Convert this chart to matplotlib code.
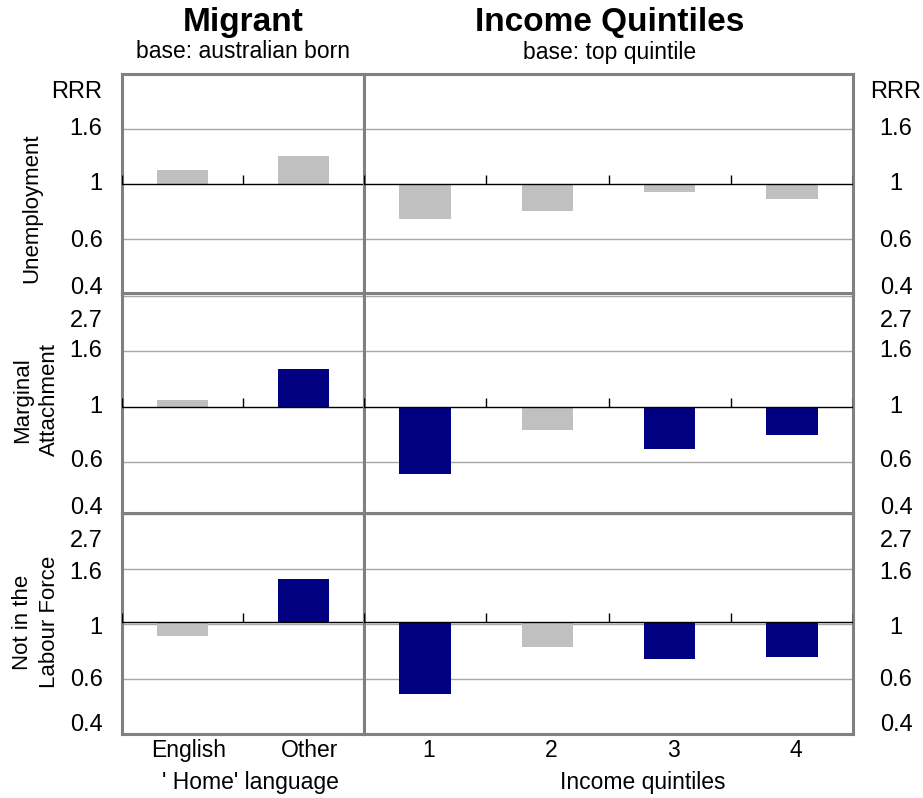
import numpy as np
import matplotlib
matplotlib.use("Agg")
import matplotlib.pyplot as plt

plt.rcParams['font.family'] = ['Liberation Sans', 'DejaVu Sans']

# ---- data: relative risk ratios (RRR) ----
rows = ["Unemployment", "Marginal\nAttachment", "Not in the\nLabour Force"]
migrant_cats = ["English", "Other"]
quintile_cats = ["1", "2", "3", "4"]

migrant_rrr = [
    [1.14, 1.29],
    [1.06, 1.41],
    [0.90, 1.50],
]
quintile_rrr = [
    [0.73, 0.785, 0.93, 0.87],
    [0.54, 0.81, 0.68, 0.77],
    [0.53, 0.81, 0.73, 0.74],
]
# significant estimates are drawn dark, others grey
migrant_sig = [
    [False, False],
    [False, True],
    [False, True],
]
quintile_sig = [
    [False, False, False, False],
    [True, False, True, True],
    [True, False, True, True],
]

tick_labels = ["0.4", "0.6", "1", "1.6", "2.7"]

# ---- styling ----
W, H = 923, 798
SIG = "#000080"
NONSIG = "#C0C0C0"
FRAME = "#808080"
GRID = "#A8A8A8"

fig = plt.figure(figsize=(W / 100, H / 100), dpi=100)


def add_px_axes(x0, y0, x1, y1):
    return fig.add_axes([x0 / W, 1 - y1 / H, (x1 - x0) / W, (y1 - y0) / H])


# row boxes (pixel top, bottom), y limits in log units, axis crossing
row_boxes = [(74, 294), (293, 514), (513, 734)]
row_ylims = [(-1.0, 1.0), (-0.975, 1.03), (-1.0, 1.01)]
row_base = [0.0, 0.0, 0.018]
# label positions (log units) for the five axis labels of each row
row_label_pos = [
    [-0.945, -0.52, 0.0, 0.5, 0.836],
    [-0.918, -0.49, 0.0, 0.5, 0.78],
    [-0.918, -0.51, -0.036, 0.46, 0.755],
]
col_x = [(122, 364), (364, 853)]

for r in range(3):
    top, bottom = row_boxes[r]
    base = row_base[r]
    for c in range(2):
        x0, x1 = col_x[c]
        ax = add_px_axes(x0, top, x1, bottom)
        if c == 0:
            cats, vals, sig = migrant_cats, migrant_rrr[r], migrant_sig[r]
        else:
            cats, vals, sig = quintile_cats, quintile_rrr[r], quintile_sig[r]
        n = len(cats)
        xs = np.arange(n)
        logv = np.log(np.array(vals))
        colors = [SIG if s else NONSIG for s in sig]
        ax.set_xlim(-0.5, n - 0.5)
        ax.set_ylim(*row_ylims[r])

        # grid lines at the log-scale ticks
        for g in [-0.5, 0.5, 1.0] + ([0.0] if r == 2 else []):
            ax.axhline(g, color=GRID, lw=1.0, zorder=1)

        ax.bar(xs, logv - base, bottom=base, width=0.42, color=colors,
               zorder=2, linewidth=0)
        ax.axhline(base, color="black", lw=1.0, zorder=3)
        # category separators on the crossing line
        ax.vlines(np.arange(n + 1) - 0.5, base, base + 0.08,
                  color="black", lw=1.0, zorder=3)

        ax.set_xticks([])
        ax.set_yticks([])
        for sp in ax.spines.values():
            sp.set_color(FRAME)
            sp.set_linewidth(2.2)

        labels = list(tick_labels)
        if r == 0:
            labels[-1] = "RRR"
        if c == 0:
            for pos, lab in zip(row_label_pos[r], labels):
                ax.annotate(lab, xy=(0, pos), xycoords=("axes fraction", "data"),
                            xytext=(-14, 0), textcoords="offset points",
                            ha="right", va="center", fontsize=17)
        else:
            for pos, lab in zip(row_label_pos[r], labels):
                ax.annotate(lab, xy=(1, pos), xycoords=("axes fraction", "data"),
                            xytext=(31, 0), textcoords="offset points",
                            ha="center", va="center", fontsize=17)

        if r == 2:
            for xi, lab in zip(xs, cats):
                ax.annotate(lab, xy=(xi + (0.05 if c == 0 else 0.03), 0),
                            xycoords=("data", "axes fraction"),
                            xytext=(0, -12), textcoords="offset points",
                            ha="center", va="center", fontsize=16.5)

# row titles
fig.text(32 / W, 1 - 208 / H, rows[0], rotation=90, ha="center", va="center",
         fontsize=16)
fig.text(36 / W, 1 - 400 / H, rows[1], rotation=90, ha="center", va="center",
         fontsize=16, linespacing=1.35)
fig.text(36 / W, 1 - 622 / H, rows[2], rotation=90, ha="center", va="center",
         fontsize=16, linespacing=1.35)

# panel headings
fig.text(243 / W, 1 - 22 / H, "Migrant", ha="center", va="center",
         fontsize=24, fontweight="bold")
fig.text(243 / W, 1 - 52 / H, "base: australian born", ha="center",
         va="center", fontsize=16.5)
fig.text(610 / W, 1 - 22 / H, "Income Quintiles", ha="center", va="center",
         fontsize=24, fontweight="bold")
fig.text(610 / W, 1 - 52 / H, "base: top quintile", ha="center",
         va="center", fontsize=16.5)

# axis titles
fig.text(250 / W, 1 - 783 / H, "' Home' language", ha="center", va="center",
         fontsize=16.5)
fig.text(643 / W, 1 - 783 / H, "Income quintiles", ha="center", va="center",
         fontsize=16.5)

fig.savefig("out.png", dpi=100)
